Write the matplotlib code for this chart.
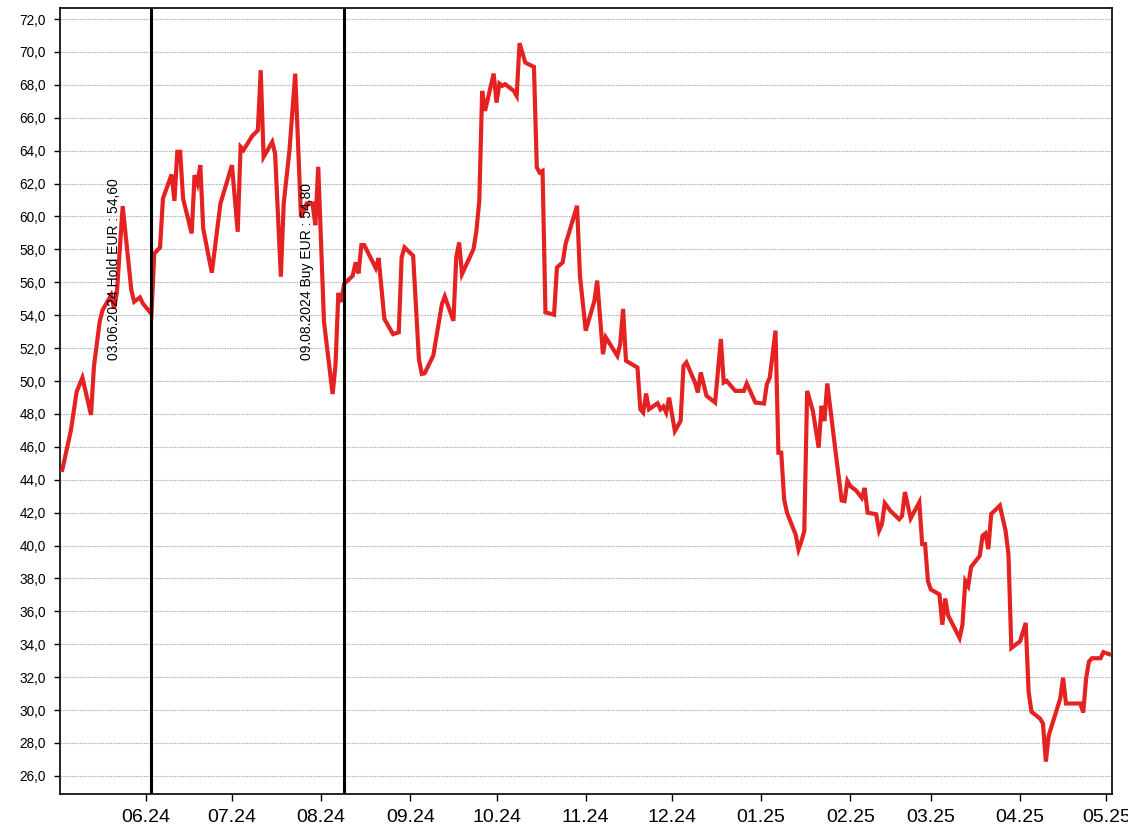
import matplotlib
matplotlib.use('Agg')
import matplotlib.pyplot as plt
import matplotlib.dates as mdates
import matplotlib.ticker as mticker
import pandas as pd

plt.rcParams['font.family'] = ['Liberation Sans', 'DejaVu Sans']

# Kursverlauf (EUR)
dates = ['2024-05-03', '2024-05-06', '2024-05-08', '2024-05-10', '2024-05-13', '2024-05-14',
         '2024-05-16', '2024-05-17', '2024-05-20', '2024-05-21', '2024-05-22', '2024-05-24',
         '2024-05-27', '2024-05-28', '2024-05-30', '2024-05-31', '2024-06-03', '2024-06-04',
         '2024-06-06', '2024-06-07', '2024-06-10', '2024-06-11', '2024-06-12', '2024-06-13',
         '2024-06-14', '2024-06-17', '2024-06-18', '2024-06-19', '2024-06-20', '2024-06-21',
         '2024-06-24', '2024-06-27', '2024-07-01', '2024-07-03', '2024-07-04', '2024-07-05',
         '2024-07-08', '2024-07-10', '2024-07-11', '2024-07-12', '2024-07-15', '2024-07-16',
         '2024-07-18', '2024-07-19', '2024-07-21', '2024-07-23', '2024-07-25', '2024-07-27',
         '2024-07-29', '2024-07-30', '2024-07-31', '2024-08-02', '2024-08-05', '2024-08-06',
         '2024-08-07', '2024-08-08', '2024-08-09', '2024-08-12', '2024-08-13', '2024-08-14',
         '2024-08-15', '2024-08-16', '2024-08-20', '2024-08-21', '2024-08-23', '2024-08-26',
         '2024-08-28', '2024-08-29', '2024-08-30', '2024-09-02', '2024-09-04', '2024-09-05',
         '2024-09-06', '2024-09-09', '2024-09-12', '2024-09-13', '2024-09-16', '2024-09-17',
         '2024-09-18', '2024-09-19', '2024-09-23', '2024-09-24', '2024-09-25', '2024-09-26',
         '2024-09-27', '2024-09-30', '2024-10-01', '2024-10-02', '2024-10-03', '2024-10-04',
         '2024-10-07', '2024-10-08', '2024-10-09', '2024-10-11', '2024-10-14', '2024-10-15',
         '2024-10-16', '2024-10-17', '2024-10-18', '2024-10-21', '2024-10-22', '2024-10-24',
         '2024-10-25', '2024-10-29', '2024-10-30', '2024-11-01', '2024-11-04', '2024-11-05',
         '2024-11-07', '2024-11-08', '2024-11-12', '2024-11-13', '2024-11-14', '2024-11-15',
         '2024-11-19', '2024-11-20', '2024-11-21', '2024-11-22', '2024-11-23', '2024-11-26',
         '2024-11-27', '2024-11-28', '2024-11-29', '2024-11-30', '2024-12-02', '2024-12-04',
         '2024-12-05', '2024-12-06', '2024-12-09', '2024-12-10', '2024-12-11', '2024-12-13',
         '2024-12-16', '2024-12-18', '2024-12-19', '2024-12-20', '2024-12-23', '2024-12-26',
         '2024-12-27', '2024-12-30', '2025-01-02', '2025-01-03', '2025-01-04', '2025-01-06',
         '2025-01-07', '2025-01-08', '2025-01-09', '2025-01-10', '2025-01-13', '2025-01-14',
         '2025-01-15', '2025-01-16', '2025-01-17', '2025-01-19', '2025-01-21', '2025-01-22',
         '2025-01-23', '2025-01-24', '2025-01-27', '2025-01-29', '2025-01-30', '2025-01-31',
         '2025-02-01', '2025-02-03', '2025-02-05', '2025-02-06', '2025-02-07', '2025-02-10',
         '2025-02-11', '2025-02-12', '2025-02-13', '2025-02-15', '2025-02-18', '2025-02-19',
         '2025-02-20', '2025-02-22', '2025-02-25', '2025-02-26', '2025-02-27', '2025-02-28',
         '2025-03-01', '2025-03-04', '2025-03-05', '2025-03-06', '2025-03-07', '2025-03-11',
         '2025-03-12', '2025-03-13', '2025-03-14', '2025-03-15', '2025-03-18', '2025-03-19',
         '2025-03-20', '2025-03-21', '2025-03-22', '2025-03-25', '2025-03-27', '2025-03-28',
         '2025-03-29', '2025-04-01', '2025-04-03', '2025-04-04', '2025-04-05', '2025-04-08',
         '2025-04-09', '2025-04-10', '2025-04-11', '2025-04-15', '2025-04-16', '2025-04-17',
         '2025-04-22', '2025-04-23', '2025-04-24', '2025-04-25', '2025-04-26', '2025-04-29',
         '2025-04-30', '2025-05-02']
prices = [44.6, 47.0, 49.35, 50.2, 47.94, 50.87,
          53.6, 54.31, 55.22, 54.4, 55.4, 60.63,
          55.53, 54.82, 55.08, 54.72, 54.07, 57.75,
          58.12, 61.09, 62.55, 60.95, 63.93, 63.93,
          61.09, 58.97, 62.51, 62.0, 63.12, 59.27,
          56.58, 60.79, 63.12, 59.07, 64.23, 64.03,
          64.88, 65.24, 68.89, 63.62, 64.53, 63.83,
          56.34, 60.79, 64.03, 68.68, 59.98, 60.79,
          60.79, 59.47, 63.02, 53.6, 49.21, 50.97,
          55.35, 54.8, 55.9, 56.4, 57.21, 56.54,
          58.26, 58.26, 56.86, 57.47, 53.77, 52.85,
          52.96, 57.51, 58.12, 57.61, 51.34, 50.43,
          50.47, 51.54, 54.68, 55.14, 53.66, 57.51,
          58.42, 56.5, 58.02, 59.13, 60.95, 67.63,
          66.42, 68.68, 66.92, 68.08, 67.94, 68.04,
          67.63, 67.33, 70.53, 69.35, 69.09, 62.98,
          62.67, 62.77, 54.17, 54.03, 56.9, 57.21,
          58.32, 60.65, 56.4, 53.06, 54.85, 56.1,
          51.63, 52.65, 51.53, 52.24, 54.38, 51.23,
          50.82, 48.28, 48.08, 49.24, 48.28, 48.65,
          48.28, 48.45, 48.08, 48.99, 46.96, 47.57,
          50.92, 51.13, 49.91, 49.3, 50.52, 49.1,
          48.69, 52.55, 49.91, 50.01, 49.4, 49.4,
          49.85, 48.69, 48.63, 49.81, 50.21, 53.06,
          45.64, 45.64, 42.8, 41.99, 40.67, 39.76,
          40.26, 40.87, 49.4, 48.18, 45.95, 48.49,
          47.57, 49.85, 45.54, 42.74, 42.7, 43.92,
          43.61, 43.35, 42.9, 43.5, 42.0, 41.9,
          40.9, 41.3, 42.57, 42.1, 41.6, 41.8,
          43.25, 41.65, 42.63, 40.09, 40.09, 37.84,
          37.33, 37.03, 35.19, 36.78, 35.76, 34.38,
          35.19, 37.84, 37.54, 38.7, 39.37, 40.6,
          40.74, 39.78, 41.92, 42.43, 40.9, 39.47,
          33.77, 34.17, 35.3, 31.12, 29.9, 29.48,
          29.18, 26.87, 28.46, 30.7, 31.97, 30.4,
          30.4, 29.85, 31.93, 32.95, 33.15, 33.15,
          33.52, 33.4]

# Signale
signal_dates = ['2024-06-03', '2024-08-09']
signal_texts = ['03.06.2024 Hold EUR : 54,60', '09.08.2024 Buy EUR : 54,80']

x = pd.to_datetime(dates)

fig = plt.figure(figsize=(11.28, 8.36), dpi=100)
ax = fig.add_axes([60/1128, 1-794/836, (1112-60)/1128, (794-8)/836])

ax.plot(x, prices, color='#e52222', linewidth=3.0, solid_joinstyle='miter', zorder=3)

for d, t in zip(signal_dates, signal_texts):
    ax.axvline(pd.Timestamp(d), color='black', linewidth=2.2, zorder=4)
    ax.annotate(t, xy=(pd.Timestamp(d), 51.25), xytext=(-37, 0), textcoords='offset pixels',
                rotation=90, ha='center', va='bottom', fontsize=10, zorder=5)

ax.set_ylim(24.9, 72.67)
ax.set_xlim(pd.Timestamp('2024-05-02 05:00'), pd.Timestamp('2025-05-03 00:00'))
ax.yaxis.set_major_locator(mticker.MultipleLocator(2))
ax.yaxis.set_major_formatter(mticker.FuncFormatter(lambda v, p: ('%.1f' % v).replace('.', ',')))
ax.xaxis.set_major_locator(mdates.MonthLocator())
ax.xaxis.set_major_formatter(mdates.DateFormatter('%m.%y'))

ax.grid(axis='y', color='#b4b4b4', linestyle=(0, (1.5, 1)), linewidth=0.8)
ax.tick_params(axis='y', labelsize=9.8, length=4, width=1, pad=6)
ax.tick_params(axis='x', labelsize=14, length=5, width=1, pad=6)
for s in ax.spines.values():
    s.set_linewidth(1.2)

plt.savefig('out.png', dpi=100)
